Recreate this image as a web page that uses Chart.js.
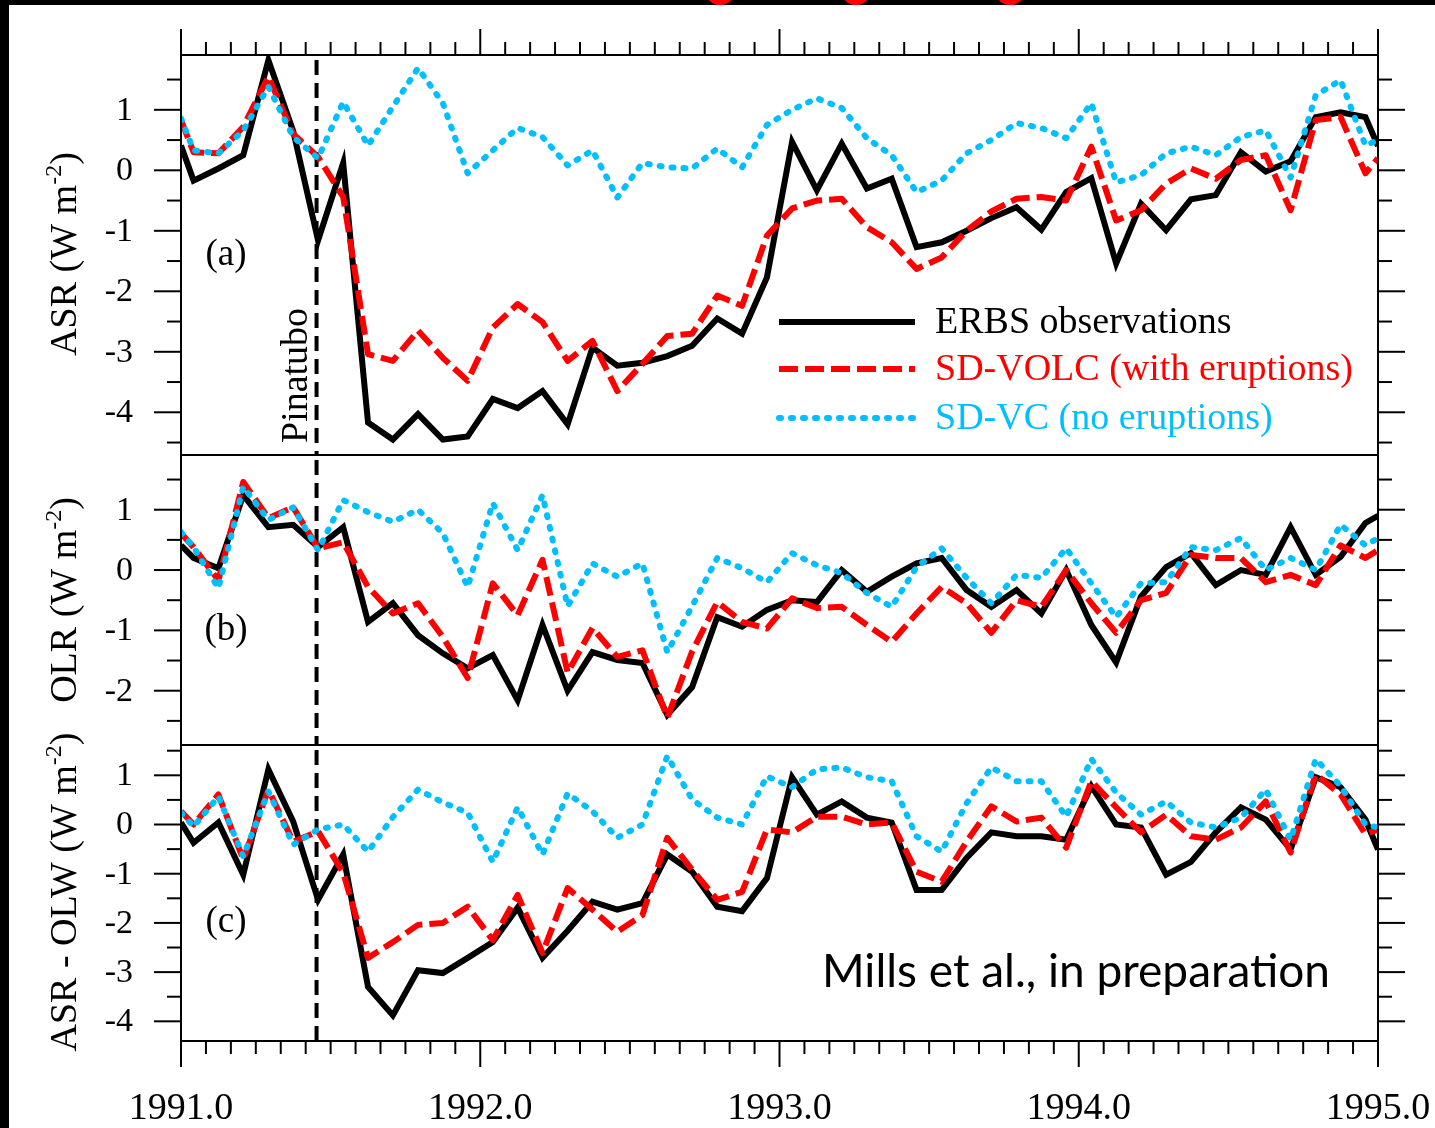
<!DOCTYPE html>
<html>
<head>
<meta charset="utf-8">
<script src="https://cdn.jsdelivr.net/npm/chart.js@4.4.1/dist/chart.umd.min.js"></script>
<style>
  html, body { margin: 0; padding: 0; background: #fff; }
  #page { position: relative; width: 1435px; height: 1128px; background: #fff; overflow: hidden; }
  #page canvas { position: absolute; left: 0; top: 0; }
  .edge { position: absolute; background: #000; }
  .blot { position: absolute; top: -16px; width: 26px; height: 21px; border-radius: 50%; background: #ff0000; }
  .preload { position: absolute; left: 20px; top: 20px; color: #fff; font-size: 30px; }
</style>
</head>
<body>
<div id="page">
  <span class="preload" style="font-family:'Liberation Serif'">0123456789</span>
  <span class="preload" style="font-family:Lato">Mills</span>
  <canvas id="asrChart" width="1435" height="1128"></canvas>
  <canvas id="olrChart" width="1435" height="1128"></canvas>
  <canvas id="netChart" width="1435" height="1128"></canvas>
  <div class="edge" style="left:0;top:0;width:1435px;height:5px"></div>
  <div class="edge" style="left:0;top:0;width:9px;height:1128px"></div>
  <div class="blot" style="left:707px"></div>
  <div class="blot" style="left:843px"></div>
  <div class="blot" style="left:997px"></div>
</div>
<script>
// monthly means, plotted mid-month, with the series pinned at 1991.0 and 1995.0
const years = [1991, 1992, 1993, 1994];
const midMonth = [0.042, 0.125, 0.208, 0.292, 0.375, 0.458, 0.542, 0.625, 0.708, 0.792, 0.875, 0.958];
const timeAxis = [1991.0].concat(...years.map(y => midMonth.map(m => y + m)), [1995.0]);

const yearLabels = ['1991.0', '1992.0', '1993.0', '1994.0', '1995.0'];
const eruptionDate = 1991.453; // Pinatubo, 15 June 1991

// (a) absorbed shortwave anomaly, W m-2
const asrObs = [0.41,
  -0.17, 0.03, 0.25, 1.82, 0.65, -1.16, 0.12, -4.17, -4.45, -4.03, -4.45, -4.4,
  -3.78, -3.93, -3.65, -4.2, -2.93, -3.23, -3.18, -3.07, -2.9, -2.45, -2.7, -1.77,
  0.47, -0.33, 0.44, -0.3, -0.14, -1.27, -1.19, -1.0, -0.79, -0.61, -0.98, -0.36,
  -0.13, -1.54, -0.55, -0.99, -0.48, -0.41, 0.3, -0.02, 0.15, 0.88, 0.96, 0.88,
  0.4];
const asrVolc = [0.83,
  0.3, 0.28, 0.72, 1.55, 0.6, 0.22, -0.44, -3.04, -3.15, -2.65, -3.1, -3.48,
  -2.6, -2.21, -2.51, -3.15, -2.82, -3.65, -3.2, -2.74, -2.7, -2.07, -2.24, -1.08,
  -0.63, -0.5, -0.47, -0.94, -1.19, -1.63, -1.44, -1.0, -0.68, -0.47, -0.44, -0.5,
  0.39, -0.83, -0.66, -0.22, 0.03, -0.14, 0.17, 0.25, -0.66, 0.83, 0.88, -0.05,
  0.2];
const asrCtrl = [0.86,
  0.33, 0.28, 0.66, 1.38, 0.55, 0.2, 1.13, 0.41, 1.05, 1.69, 1.11, -0.05,
  0.33, 0.7, 0.55, 0.08, 0.33, -0.45, 0.12, 0.05, 0.03, 0.36, 0.05, 0.75,
  1.0, 1.19, 1.03, 0.53, 0.25, -0.36, -0.17, 0.28, 0.5, 0.78, 0.7, 0.53,
  1.11, -0.2, -0.08, 0.28, 0.39, 0.25, 0.55, 0.66, -0.12, 1.24, 1.49, 0.41,
  0.5];

// (b) outgoing longwave anomaly
const olrObs = [0.41,
  0.2, 0.03, 1.24, 0.71, 0.75, 0.38, 0.71, -0.86, -0.55, -1.08, -1.38, -1.63,
  -1.41, -2.16, -0.91, -2.0, -1.36, -1.49, -1.54, -2.4, -1.94, -0.78, -0.94, -0.66,
  -0.5, -0.53, 0.0, -0.36, -0.11, 0.11, 0.2, -0.33, -0.61, -0.33, -0.72, 0.0,
  -0.91, -1.53, -0.44, 0.05, 0.28, -0.25, 0.0, -0.08, 0.71, -0.08, 0.22, 0.78,
  0.9];
const olrVolc = [0.61,
  0.38, -0.17, 1.46, 0.86, 1.04, 0.36, 0.46, -0.28, -0.72, -0.55, -1.11, -1.79,
  -0.22, -0.75, 0.17, -1.7, -0.96, -1.44, -1.33, -2.45, -1.35, -0.53, -0.86, -0.97,
  -0.47, -0.63, -0.61, -0.91, -1.19, -0.72, -0.28, -0.55, -1.04, -0.5, -0.61, 0.0,
  -0.55, -1.04, -0.5, -0.38, 0.25, 0.2, 0.2, -0.2, -0.08, -0.25, 0.41, 0.2,
  0.33];
const olrCtrl = [0.63,
  0.38, -0.3, 1.38, 0.83, 1.04, 0.33, 1.16, 0.96, 0.8, 1.0, 0.61, -0.28,
  1.11, 0.33, 1.24, -0.6, 0.11, -0.11, 0.11, -1.36, -0.6, 0.2, 0.03, -0.2,
  0.28, 0.08, -0.05, -0.38, -0.61, 0.05, 0.36, -0.13, -0.55, -0.08, -0.13, 0.36,
  -0.22, -0.78, -0.22, -0.2, 0.38, 0.33, 0.53, 0.0, 0.2, 0.0, 0.75, 0.41,
  0.53];

// (c) net, ASR - OLW
const netObs = [0.04,
  -0.37, 0.04, -1.02, 1.12, 0.06, -1.53, -0.61, -3.3, -3.88, -2.96, -3.02, -2.71,
  -2.39, -1.69, -2.71, -2.16, -1.57, -1.73, -1.6, -0.61, -0.96, -1.67, -1.76, -1.09,
  0.96, 0.2, 0.47, 0.14, 0.04, -1.33, -1.33, -0.68, -0.16, -0.24, -0.24, -0.31,
  0.78, 0.0, -0.06, -1.02, -0.76, -0.16, 0.35, 0.1, -0.51, 0.96, 0.76, 0.1,
  -0.51];
const netVolc = [0.27,
  0.0, 0.61, -0.71, 0.71, -0.35, -0.14, -0.98, -2.71, -2.39, -2.04, -2.0, -1.67,
  -2.35, -1.43, -2.61, -1.29, -1.73, -2.18, -1.84, -0.27, -0.92, -1.53, -1.37, -0.1,
  -0.16, 0.16, 0.16, 0.0, 0.04, -0.96, -1.16, -0.35, 0.37, 0.06, 0.14, -0.47,
  0.88, 0.35, -0.16, 0.2, -0.24, -0.31, -0.06, 0.47, -0.57, 1.02, 0.61, -0.2,
  -0.1];
const netCtrl = [0.24,
  -0.04, 0.57, -0.65, 0.67, -0.41, -0.1, 0.0, -0.55, 0.15, 0.71, 0.45, 0.24,
  -0.76, 0.35, -0.61, 0.63, 0.27, -0.27, 0.0, 1.39, 0.51, 0.14, 0.0, 0.98,
  0.76, 1.12, 1.16, 0.96, 0.88, -0.24, -0.55, 0.43, 1.16, 0.88, 0.88, 0.16,
  1.33, 0.65, 0.2, 0.47, 0.04, -0.06, 0.14, 0.71, -0.31, 1.33, 0.78, 0.0,
  -0.06];

const asrTicks = [1, 0, -1, -2, -3, -4];
const olrTicks = [1, 0, -1, -2];
const netTicks = [1, 0, -1, -2, -3, -4];

function serif(px) { return px + 'px "Liberation Serif"'; }

const obsStyle = { label: 'ERBS observations', borderColor: '#000000', borderWidth: 6,
  borderJoinStyle: 'miter', order: 2 };
const volcStyle = { label: 'SD-VOLC (with eruptions)', borderColor: '#ff0000', borderWidth: 6,
  borderDash: [19, 7], borderJoinStyle: 'round', order: 1 };
const ctrlStyle = { label: 'SD-VC (no eruptions)', borderColor: '#00bfff', borderWidth: 6,
  borderDash: [2, 10], borderCapStyle: 'round', borderJoinStyle: 'round', order: 0 };

function series(values, style) {
  return Object.assign({
    data: values.map((v, i) => ({ x: timeAxis[i], y: v })),
    pointRadius: 0, tension: 0, fill: false
  }, style);
}

// per-panel decoration, looked up by canvas id (all canvases share page coordinates)
const panelCfg = {
  asrChart: {
    tag: '(a)', tagY: 255, ticks: asrTicks, topTicks: true,
    title: ['ASR (W m', '-2', ')'], titleY: 254,
    pinatubo: true, legend: [322, 369, 418]
  },
  olrChart: {
    tag: '(b)', tagY: 630, ticks: olrTicks,
    title: ['OLR (W m', '-2', ')'], titleY: 600
  },
  netChart: {
    tag: '(c)', tagY: 922, ticks: netTicks, bottomTicks: true,
    title: ['ASR - OLW (W m', '-2', ')'], titleY: 892,
    credit: { text: 'Mills et al., in preparation', x: 822, y: 972 }
  }
};

function stroke(ctx, x1, y1, x2, y2) {
  ctx.beginPath(); ctx.moveTo(x1, y1); ctx.lineTo(x2, y2); ctx.stroke();
}

function drawTitle(ctx, parts, x, yc) {
  ctx.font = serif(38); const w0 = ctx.measureText(parts[0]).width, w2 = ctx.measureText(parts[2]).width;
  ctx.font = serif(24); const w1 = ctx.measureText(parts[1]).width;
  const total = w0 + w1 + w2;
  ctx.save();
  ctx.translate(x, yc);
  ctx.rotate(-Math.PI / 2);
  ctx.fillStyle = '#000';
  ctx.textBaseline = 'alphabetic';
  ctx.textAlign = 'left';
  let cx = -total / 2;
  ctx.font = serif(38); ctx.fillText(parts[0], cx, 0); cx += w0;
  ctx.font = serif(24); ctx.fillText(parts[1], cx, -15); cx += w1;
  ctx.font = serif(38); ctx.fillText(parts[2], cx, 0);
  ctx.restore();
}

const panelPlugin = {
  id: 'panelDecor',
  beforeDatasetsDraw(chart) {
    const { ctx, chartArea: a, scales: { x } } = chart;
    const px = x.getPixelForValue(eruptionDate);
    ctx.save();
    ctx.strokeStyle = '#000';
    ctx.lineWidth = 4;
    ctx.setLineDash([15, 8]);
    stroke(ctx, px, a.top + 5, px, a.bottom);
    ctx.restore();
  },
  afterDatasetsDraw(chart) {
    const cfg = panelCfg[chart.canvas.id];
    const { ctx, chartArea: a, scales: { x, y } } = chart;
    ctx.save();
    ctx.strokeStyle = '#000';
    ctx.fillStyle = '#000';
    ctx.lineWidth = 2;
    ctx.strokeRect(a.left, a.top, a.right - a.left, a.bottom - a.top);

    // y ticks every 0.5, both sides, pointing out
    for (let k = Math.ceil(y.min * 2); k <= Math.floor(y.max * 2); k++) {
      const py = y.getPixelForValue(k / 2);
      const len = k % 2 === 0 ? 27 : 14;
      stroke(ctx, a.left - len, py, a.left, py);
      stroke(ctx, a.right, py, a.right + len, py);
    }
    ctx.font = serif(34);
    ctx.textAlign = 'right';
    ctx.textBaseline = 'middle';
    cfg.ticks.forEach(v => ctx.fillText(String(v), a.left - 48, y.getPixelForValue(v) + 1));

    // monthly x ticks
    if (cfg.topTicks || cfg.bottomTicks) {
      for (let m = 0; m <= 48; m++) {
        const px = x.getPixelForValue(1991 + m / 12);
        const len = m % 12 === 0 ? 26 : 13;
        if (cfg.topTicks) stroke(ctx, px, a.top - len, px, a.top);
        if (cfg.bottomTicks) stroke(ctx, px, a.bottom, px, a.bottom + len);
      }
    }
    if (cfg.bottomTicks) {
      ctx.font = serif(38);
      ctx.textAlign = 'center';
      ctx.textBaseline = 'middle';
      yearLabels.forEach(t => ctx.fillText(t, x.getPixelForValue(parseFloat(t)), a.bottom + 68));
    }

    drawTitle(ctx, cfg.title, 76, cfg.titleY);

    ctx.font = serif(37);
    ctx.textAlign = 'center';
    ctx.textBaseline = 'middle';
    ctx.fillText(cfg.tag, 226, cfg.tagY);

    if (cfg.pinatubo) {
      ctx.save();
      ctx.translate(307, 443);
      ctx.rotate(-Math.PI / 2);
      ctx.font = serif(38);
      ctx.textAlign = 'left';
      ctx.textBaseline = 'alphabetic';
      ctx.fillText('Pinatubo', 0, 0);
      ctx.restore();
    }

    if (cfg.legend) {
      ctx.font = serif(38);
      ctx.textAlign = 'left';
      ctx.textBaseline = 'middle';
      chart.data.datasets.forEach((ds, i) => {
        const ly = cfg.legend[i];
        ctx.save();
        ctx.strokeStyle = ds.borderColor;
        ctx.lineWidth = ds.borderWidth;
        ctx.lineCap = ds.borderCapStyle || 'butt';
        ctx.setLineDash(ds.borderDash || []);
        stroke(ctx, 779, ly, 915, ly);
        ctx.restore();
        ctx.fillStyle = ds.borderColor;
        ctx.fillText(ds.label, 935, ly + 1);
      });
      ctx.fillStyle = '#000';
    }

    if (cfg.credit) {
      ctx.font = '46px Lato';
      ctx.textAlign = 'left';
      ctx.textBaseline = 'middle';
      ctx.fillText(cfg.credit.text, cfg.credit.x, cfg.credit.y);
    }
    ctx.restore();
  }
};

function makePanel(id, values, yMin, yMax, top, bottom) {
  return new Chart(document.getElementById(id), {
    type: 'line',
    data: {
      datasets: [series(values[0], obsStyle), series(values[1], volcStyle), series(values[2], ctrlStyle)]
    },
    options: {
      responsive: false,
      animation: false,
      devicePixelRatio: 1,
      layout: { padding: { left: 181, right: 57, top: top, bottom: 1128 - bottom } },
      scales: {
        x: { type: 'linear', min: 1991, max: 1995, display: false },
        y: { type: 'linear', min: yMin, max: yMax, display: false }
      },
      plugins: { legend: { display: false }, tooltip: { enabled: false } }
    },
    plugins: [panelPlugin]
  });
}

makePanel('asrChart', [asrObs, asrVolc, asrCtrl], -4.706, 1.906, 55, 455);
makePanel('olrChart', [olrObs, olrVolc, olrCtrl], -2.9, 1.907, 455, 745);
makePanel('netChart', [netObs, netVolc, netCtrl], -4.40, 1.616, 745, 1041);
</script>
</body>
</html>
